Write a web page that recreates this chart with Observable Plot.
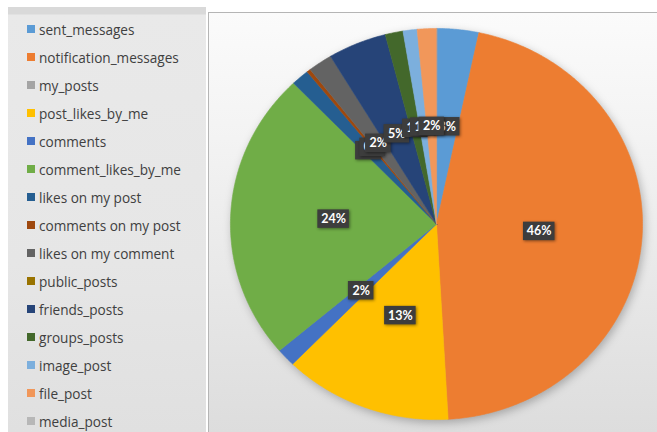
<!DOCTYPE html>
<html>
<head>
<meta charset="utf-8">
<script src="https://cdn.jsdelivr.net/npm/d3@7"></script>
<script src="https://cdn.jsdelivr.net/npm/@observablehq/plot@0.6"></script>
<style>
  html, body { margin: 0; padding: 0; background: #ffffff; }
  #wrap { position: relative; width: 657px; height: 432px; overflow: hidden; font-family: "Open Sans", sans-serif; }
  #legend { position: absolute; left: 8px; top: 7px; width: 198px; height: 425px;
    background: linear-gradient(to bottom, #d9d9d9 0px, #d9d9d9 7px, #e9e9e9 8px, #e6e6e6 60%, #e0e0e0 100%); }
  .item { position: absolute; left: 19px; height: 20px; display: flex; align-items: center; font-size: 13.6px; color: #404040; white-space: nowrap; }
  .sw { width: 8px; height: 8px; margin-right: 4px; flex: none; }
  #chart { position: absolute; left: 208px; top: 12px; width: 449px; height: 420px;
    border-left: 1px solid #b5b5b5; border-top: 1px solid #b5b5b5; box-sizing: border-box;
    background: linear-gradient(to bottom, #fbfbfb 0%, #f3f3f3 30%, #e6e6e6 70%, #dddddd 100%); }
  #chart svg { position: absolute; left: -1px; top: -1px; }
</style>
</head>
<body>
<div id="wrap">
  <div id="legend"></div>
  <div id="chart"></div>
</div>
<script>
const categories = ["sent_messages", "notification_messages", "my_posts", "post_likes_by_me", "comments",
  "comment_likes_by_me", "likes on my post", "comments on my post", "likes on my comment", "public_posts",
  "friends_posts", "groups_posts", "image_post", "file_post", "media_post"];
const values = [3.3, 45.8, 0, 13.2, 1.5, 24.0, 1.4, 0.3, 1.9, 0, 4.6, 1.4, 1.1, 1.5, 0];
const colors = ["#5B9BD5", "#ED7D31", "#A5A5A5", "#FFC000", "#4472C4", "#70AD47", "#255E91", "#9E480E",
  "#636363", "#997300", "#264478", "#43682B", "#7CAFDD", "#F1975A", "#B7B7B7"];

// Legend
const legend = document.getElementById("legend");
categories.forEach((c, i) => {
  const it = document.createElement("div");
  it.className = "item";
  it.style.top = (12 + 28 * i) + "px";
  const sw = document.createElement("span");
  sw.className = "sw";
  sw.style.background = colors[i];
  it.appendChild(sw);
  it.appendChild(document.createTextNode(c));
  legend.appendChild(it);
});

// Pie geometry from data
const total = d3.sum(values);
const slices = [];
let acc = 0;
values.forEach((v, i) => {
  const a0 = acc / total * 2 * Math.PI;
  acc += v;
  const a1 = acc / total * 2 * Math.PI;
  slices.push({name: categories[i], value: v, pct: v / total * 100, a0, a1});
});

const pts = [];
slices.filter(s => s.value > 0).forEach(s => {
  pts.push({name: s.name, x: 0, y: 0});
  const n = Math.max(2, Math.ceil((s.a1 - s.a0) / (Math.PI / 360)));
  for (let k = 0; k <= n; k++) {
    const a = s.a0 + (s.a1 - s.a0) * k / n;
    pts.push({name: s.name, x: Math.sin(a), y: Math.cos(a)});
  }
});

const W = 449, H = 420;
const xRange = [22, 435], yRange = [408, 16];
const pxX = (xRange[1] - xRange[0]) / 2, pxY = (yRange[0] - yRange[1]) / 2;

const labels = slices.filter(s => s.value > 0).map(s => {
  const m = (s.a0 + s.a1) / 2;
  const text = Math.round(s.pct) + "%";
  const w = 13.6 + 6 * text.length, h = 18.5;
  const x = 0.5 * Math.sin(m), y = 0.5 * Math.cos(m);
  return {text, x, y, x1: x - w / 2 / pxX, x2: x + w / 2 / pxX, y1: y - h / 2 / pxY, y2: y + h / 2 / pxY};
});

const labelMarks = labels.flatMap(d => [
  Plot.rect([d], {x1: "x1", x2: "x2", y1: "y1", y2: "y2", fill: "#3d3d3d", className: "lbox"}),
  Plot.text([d], {x: "x", y: "y", text: "text", fill: "white", fontWeight: "bold", fontSize: 12.5, fontFamily: "Lato, 'Open Sans', sans-serif"})
]);

const svg = Plot.plot({
  width: W, height: H,
  margin: 0,
  style: {background: "transparent", overflow: "visible"},
  x: {domain: [-1, 1], range: xRange, axis: null},
  y: {domain: [-1, 1], range: yRange, axis: null},
  color: {type: "ordinal", domain: categories, range: colors},
  marks: [
    Plot.line(pts, {x: "x", y: "y", z: "name", fill: "name", stroke: "name", strokeWidth: 0.6, curve: "linear-closed", className: "pie"}),
    ...labelMarks
  ]
});
document.getElementById("chart").appendChild(svg);
svg.querySelectorAll(".pie").forEach(g => g.style.filter = "drop-shadow(2px 3px 4px rgba(0,0,0,0.25))");
svg.querySelectorAll(".lbox").forEach(g => g.style.filter = "drop-shadow(1.5px 1.5px 1.5px rgba(0,0,0,0.45))");
</script>
</body>
</html>
